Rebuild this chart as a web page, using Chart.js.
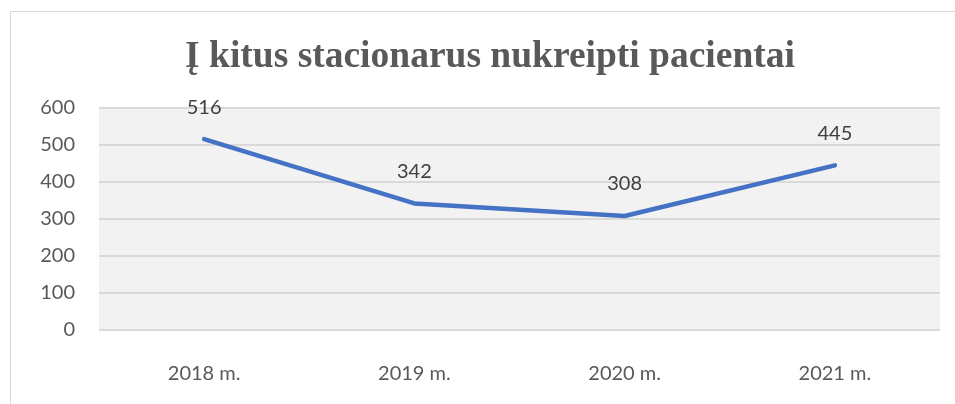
<!DOCTYPE html>
<html>
<head>
<meta charset="utf-8">
<script src="https://cdn.jsdelivr.net/npm/chart.js@4"></script>
<style>
html,body{margin:0;padding:0;background:#fff;}
#wrap{width:955px;height:404px;position:relative;}
</style>
</head>
<body>
<div id="wrap"><canvas id="c" width="955" height="404"></canvas></div>
<script>
const categories = ["2018 m.", "2019 m.", "2020 m.", "2021 m."];
const values = [516, 342, 308, 445];
const yTicks = [0, 100, 200, 300, 400, 500, 600];
const titleText = "Į kitus stacionarus nukreipti pacientai";

const textColor = "#595959";
const gridColor = "#d9d9d9";
const lineColor = "#4472C4";
const tickFont = "Lato, 'Open Sans', sans-serif";

const decor = {
  id: "decor",
  beforeDraw(chart) {
    const ctx = chart.ctx;
    const a = chart.chartArea;
    ctx.save();
    ctx.fillStyle = "#ffffff";
    ctx.fillRect(0, 0, chart.width, chart.height);
    ctx.strokeStyle = "#d9d9d9";
    ctx.lineWidth = 1;
    ctx.beginPath();
    ctx.moveTo(10.5, 404);
    ctx.lineTo(10.5, 11.5);
    ctx.lineTo(955, 11.5);
    ctx.stroke();
    ctx.fillStyle = "#f2f2f2";
    ctx.fillRect(a.left, a.top, a.right - a.left, a.bottom - a.top);
    ctx.font = "bold 37.5px 'Liberation Serif', 'Times New Roman', serif";
    ctx.fillStyle = textColor;
    ctx.textAlign = "center";
    ctx.textBaseline = "alphabetic";
    ctx.fillText(titleText, 490, 67);
    ctx.restore();
  },
  afterDatasetsDraw(chart) {
    const ctx = chart.ctx;
    const meta = chart.getDatasetMeta(0);
    ctx.save();
    ctx.font = "20px " + tickFont;
    ctx.fillStyle = "#404040";
    ctx.textAlign = "center";
    ctx.textBaseline = "middle";
    meta.data.forEach((pt, i) => {
      ctx.fillText(String(values[i]), pt.x, pt.y - 32);
    });
    ctx.restore();
  }
};

new Chart(document.getElementById("c"), {
  type: "line",
  data: {
    labels: categories,
    datasets: [{
      data: values,
      borderColor: lineColor,
      borderWidth: 4.5,
      borderCapStyle: "round",
      borderJoinStyle: "round",
      pointRadius: 0,
      tension: 0,
      fill: false
    }]
  },
  options: {
    responsive: false,
    animation: false,
    devicePixelRatio: 1,
    layout: { padding: { left: 10, right: 15, top: 108, bottom: 0 } },
    plugins: {
      legend: { display: false },
      tooltip: { enabled: false },
      title: { display: false }
    },
    scales: {
      x: {
        offset: true,
        afterFit(scale) { scale.height = 74; },
        grid: { display: false, drawTicks: false },
        border: { display: false },
        ticks: { color: textColor, font: { family: tickFont, size: 20 }, padding: 32 }
      },
      y: {
        min: 0,
        max: 600,
        afterBuildTicks(scale) { scale.ticks = yTicks.map(v => ({ value: v })); },
        afterFit(scale) { scale.width = 89; },
        grid: { color: gridColor, lineWidth: 2, drawTicks: false },
        border: { display: false },
        ticks: { color: textColor, font: { family: tickFont, size: 20 }, padding: 24 }
      }
    }
  },
  plugins: [decor]
});
</script>
</body>
</html>
